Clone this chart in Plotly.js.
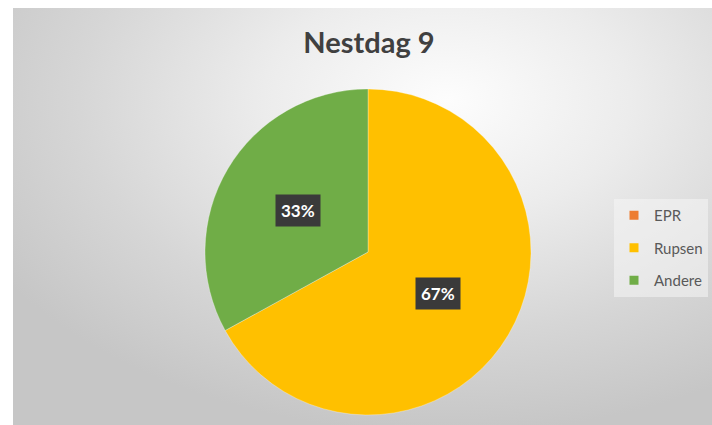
<!DOCTYPE html>
<html>
<head>
<meta charset="utf-8">
<script src="https://cdn.plot.ly/plotly-3.0.1.min.js"></script>
<style>
  html, body { margin: 0; padding: 0; background: #ffffff; }
  #wrap { position: relative; width: 712px; height: 425px; overflow: hidden; }
  #bg { position: absolute; left: 13px; top: 8px; right: 0; bottom: 0;
        background: radial-gradient(ellipse 75% 80% at 62% 22%, #fdfdfd 0%, #ececec 35%, #d6d6d6 70%, #c6c6c6 100%); }
  #chart { position: absolute; left: 0; top: 0; width: 712px; height: 425px; }
</style>
</head>
<body>
<div id="wrap"><div id="bg"></div><div id="chart"></div></div>
<script>
// ---- data ----
const categories = ['EPR', 'Rupsen', 'Andere'];
const values = [0, 67, 33];
const colors = ['#ED7D31', '#FFC000', '#70AD47'];
const chartTitle = 'Nestdag 9';

// ---- geometry (layout) ----
const W = 712, H = 425;
const pieDomain = { x: [205 / W, 531 / W], y: [10 / H, 336 / H] };
const labelRadius = 0.5;
const FONT = 'Lato, "Open Sans", "Noto Sans", sans-serif';

const pie = {
  type: 'pie',
  labels: categories,
  values: values,
  sort: false,
  direction: 'clockwise',
  rotation: 0,
  marker: { colors: colors, line: { color: 'rgba(255,255,255,0.6)', width: 0.5 } },
  textinfo: 'none',
  hoverinfo: 'label+percent',
  showlegend: false,
  domain: pieDomain
};

// legend entries (one per category) drawn via empty square-marker traces
const legendTraces = categories.map((c, i) => ({
  type: 'scatter', mode: 'markers', x: [null], y: [null],
  name: c, legendgroup: c,
  marker: { symbol: 'square', size: 9, color: colors[i] },
  hoverinfo: 'skip'
}));

// percent labels, placed from the data (mid-angle of each slice)
const total = values.reduce((a, b) => a + b, 0);
const pxW = (pieDomain.x[1] - pieDomain.x[0]) * W;
const pxH = (pieDomain.y[1] - pieDomain.y[0]) * H;
const r = Math.min(pxW, pxH) / 2;
const cx = (pieDomain.x[0] + pieDomain.x[1]) / 2 * W;
const cy = (1 - (pieDomain.y[0] + pieDomain.y[1]) / 2) * H;
const annotations = [];
let cum = 0;
values.forEach((v, i) => {
  const frac = v / total;
  const mid = (cum + frac / 2) * 2 * Math.PI;
  cum += frac;
  if (v <= 0) return;
  const px = cx + labelRadius * r * Math.sin(mid);
  const py = cy - labelRadius * r * Math.cos(mid);
  annotations.push({
    xref: 'paper', yref: 'paper', x: px / W, y: 1 - py / H,
    xanchor: 'center', yanchor: 'middle', showarrow: false,
    text: '<b>' + Math.round(frac * 100) + '%</b>',
    font: { family: FONT, size: 17, color: '#ffffff' },
    bgcolor: '#3a3a3a', borderpad: 5
  });
});

const layout = {
  width: W, height: H,
  margin: { l: 0, r: 0, t: 0, b: 0 },
  paper_bgcolor: 'rgba(0,0,0,0)',
  plot_bgcolor: 'rgba(0,0,0,0)',
  title: {
    text: '<b>' + chartTitle + '</b>',
    font: { family: FONT, size: 29, color: '#404040' },
    x: 369 / W, xanchor: 'center', y: 1 - 43 / H, yanchor: 'middle'
  },
  xaxis: { visible: false, domain: [0, 0.01] },
  yaxis: { visible: false, domain: [0, 0.01] },
  showlegend: true,
  legend: {
    x: 614 / W, xanchor: 'left', y: 1 - 199 / H, yanchor: 'top',
    bgcolor: 'rgba(245,245,245,0.55)',
    font: { family: FONT, size: 15, color: '#595959' },
    traceorder: 'grouped', tracegroupgap: 10,
    itemwidth: 30
  },
  annotations: annotations
};

Plotly.newPlot('chart', [pie].concat(legendTraces), layout, { displayModeBar: false, staticPlot: true });
</script>
</body>
</html>
